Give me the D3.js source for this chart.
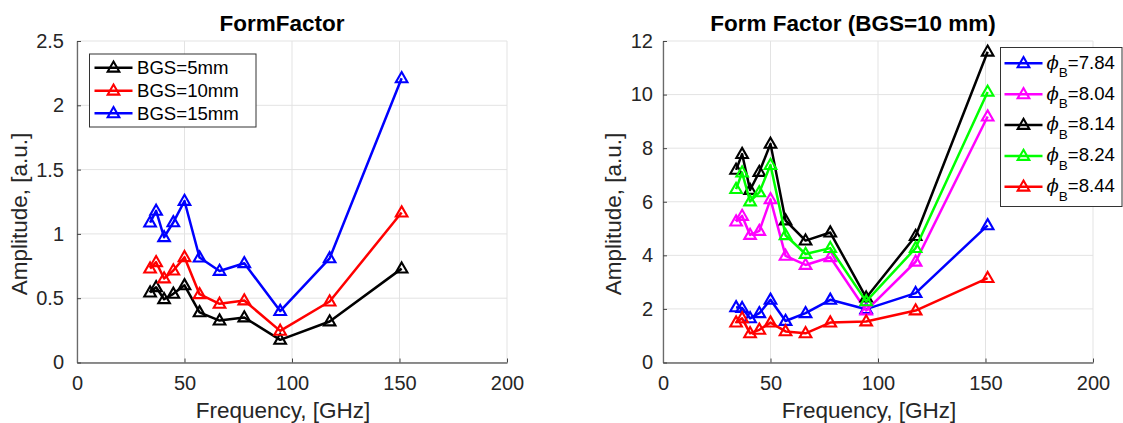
<!DOCTYPE html>
<html>
<head>
<meta charset="utf-8">
<script src="https://cdn.jsdelivr.net/npm/d3@7"></script>
<style>
  html, body { margin: 0; padding: 0; background: #fff; }
  svg { display: block; }
  text { font-family: "Liberation Sans", Arial, Helvetica, sans-serif; fill: #262626; }
</style>
</head>
<body>
<svg id="chart" width="1123" height="423"></svg>
<script>
// ---------------- DATA ----------------
const freq = [34, 36.8, 40.5, 44.8, 50, 57, 66.3, 77.8, 94.5, 117.5, 151];

// Left panel: FormFactor for different BGS
const leftNames = ["BGS=5mm", "BGS=10mm", "BGS=15mm"];
const leftColors = ["#000000", "#ff0000", "#0000ff"];
const bgs5  = [0.544, 0.585, 0.492, 0.534, 0.600, 0.390, 0.326, 0.350, 0.176, 0.319, 0.730];
const bgs10 = [0.730, 0.780, 0.653, 0.715, 0.819, 0.531, 0.456, 0.482, 0.246, 0.474, 1.166];
const bgs15 = [1.088, 1.179, 0.974, 1.090, 1.256, 0.816, 0.712, 0.772, 0.400, 0.810, 2.210];
const leftSeries = [bgs5, bgs10, bgs15];
const leftYTicks = [0, 0.5, 1, 1.5, 2, 2.5];
const leftYLabels = ["0", "0.5", "1", "1.5", "2", "2.5"];

// Right panel: Form Factor (BGS=10 mm) for different phi_B
const rightNames = ["7.84", "8.04", "8.14", "8.24", "8.44"];
const rightColors = ["#0000ff", "#ff00ff", "#000000", "#00ff00", "#ff0000"];
const phi784 = [2.06, 2.03, 1.65, 1.84, 2.34, 1.55, 1.84, 2.34, 1.99, 2.59, 5.12];
const phi804 = [5.26, 5.47, 4.76, 4.91, 6.09, 3.98, 3.64, 3.93, 1.94, 3.76, 9.18];
const phi814 = [7.19, 7.78, 6.44, 7.11, 8.16, 5.30, 4.55, 4.85, 2.42, 4.72, 11.60];
const phi824 = [6.47, 7.09, 6.01, 6.35, 7.37, 4.75, 4.05, 4.27, 2.28, 4.27, 10.10];
const phi844 = [1.49, 1.65, 1.09, 1.22, 1.49, 1.16, 1.09, 1.49, 1.53, 1.94, 3.15];
const rightSeries = [phi784, phi804, phi814, phi824, phi844];
const rightYTicks = [0, 2, 4, 6, 8, 10, 12];

const xTicks = [0, 50, 100, 150, 200];

// ---------------- DRAW ----------------
const svg = d3.select("#chart");
const FONT_TICK = 20, FONT_LABEL = 22.5, FONT_LEG = 18.6;
const yTop = 41, yBot = 362.5;
const LINE_W = 2.5, MARK_W = 2.1;

const triPath = "M0,-6.2 L5.8,3.9 L-5.8,3.9 Z";

function panel(opts) {
  const x = d3.scaleLinear().domain([0, 200]).range([opts.left, opts.left + 430]);
  const y = d3.scaleLinear().domain(opts.yDomain).range([yBot, yTop]);
  const g = svg.append("g");

  // grid
  g.append("g").selectAll("line").data(xTicks).join("line")
    .attr("x1", d => x(d)).attr("x2", d => x(d))
    .attr("y1", yTop).attr("y2", yBot)
    .attr("stroke", "#e3e3e3").attr("stroke-width", 1);
  g.append("g").selectAll("line").data(opts.yTicks).join("line")
    .attr("x1", x(0)).attr("x2", x(200))
    .attr("y1", d => y(d)).attr("y2", d => y(d))
    .attr("stroke", "#e3e3e3").attr("stroke-width", 1);

  // axes
  const xAxis = d3.axisBottom(x).tickValues(xTicks).tickSizeInner(-4).tickSizeOuter(0).tickPadding(9)
    .tickFormat(d3.format("d"));
  const gx = g.append("g").attr("transform", `translate(0,${yBot})`).call(xAxis);
  gx.select(".domain").attr("stroke", "#6a6a6a").attr("stroke-width", 1.3);
  gx.selectAll(".tick line").attr("stroke", "#444");
  gx.selectAll(".tick text").attr("font-size", FONT_TICK).attr("fill", "#262626")
    .attr("font-family", "Liberation Sans, Arial, sans-serif").attr("y", 13).attr("dy", "0.71em");

  const yAxis = d3.axisLeft(y).tickValues(opts.yTicks).tickSizeInner(-4).tickSizeOuter(0)
    .tickPadding(opts.tickPad).tickFormat(opts.yFormat);
  const gy = g.append("g").attr("transform", `translate(${x(0)},0)`).call(yAxis);
  gy.select(".domain").attr("stroke", "#6a6a6a").attr("stroke-width", 1.3);
  gy.selectAll(".tick line").attr("stroke", "#444");
  gy.selectAll(".tick text").attr("font-size", FONT_TICK).attr("fill", "#262626")
    .attr("font-family", "Liberation Sans, Arial, sans-serif").attr("x", -opts.tickPad);

  // lines + markers
  const line = d3.line().x((d, i) => x(freq[i])).y(d => y(d));
  opts.series.forEach((s, k) => {
    g.append("path").datum(s).attr("d", line).attr("fill", "none")
      .attr("stroke", opts.colors[k]).attr("stroke-width", LINE_W).attr("stroke-linejoin", "round");
    g.append("g").selectAll("path").data(s).join("path")
      .attr("transform", (d, i) => `translate(${x(freq[i])},${y(d)})`)
      .attr("d", triPath).attr("fill", "none")
      .attr("stroke", opts.colors[k]).attr("stroke-width", MARK_W).attr("stroke-linejoin", "miter");
  });

  // title
  g.append("text").attr("x", opts.titleX).attr("y", 31).attr("text-anchor", "middle")
    .attr("font-size", FONT_LABEL).attr("font-weight", "bold").style("fill", "#000")
    .text(opts.title);
  // x label
  g.append("text").attr("x", opts.xlabX).attr("y", 418).attr("text-anchor", "middle")
    .attr("font-size", FONT_LABEL).text("Frequency, [GHz]");
  // y label
  g.append("text").attr("transform", `translate(${opts.ylabX},214) rotate(-90)`)
    .attr("text-anchor", "middle").attr("font-size", FONT_LABEL).text("Amplitude, [a.u.]");

  return { g, x, y };
}

panel({
  left: 77, yDomain: [0, 2.5], yTicks: leftYTicks,
  yFormat: d => leftYLabels[leftYTicks.indexOf(d)], tickPad: 13,
  series: leftSeries, colors: leftColors,
  title: "FormFactor", titleX: 282, xlabX: 283, ylabX: 27
});
panel({
  left: 663, yDomain: [0, 12], yTicks: rightYTicks,
  yFormat: d3.format("d"), tickPad: 10,
  series: rightSeries, colors: rightColors,
  title: "Form Factor (BGS=10 mm)", titleX: 853, xlabX: 869, ylabX: 621
});

// ---------------- LEGENDS ----------------
function legendMarker(g, cx, cy, color) {
  g.append("line").attr("x1", cx - 19).attr("x2", cx + 19).attr("y1", cy).attr("y2", cy)
    .attr("stroke", color).attr("stroke-width", LINE_W);
  g.append("path").attr("transform", `translate(${cx},${cy})`).attr("d", triPath)
    .attr("fill", "none").attr("stroke", color).attr("stroke-width", MARK_W);
}

// Left legend
const lg = svg.append("g");
lg.append("rect").attr("x", 89.5).attr("y", 54).attr("width", 166.5).attr("height", 73)
  .attr("fill", "#fff").attr("stroke", "#333").attr("stroke-width", 1);
const leftRowY = [67.7, 90.7, 113.3];
leftNames.forEach((n, k) => {
  legendMarker(lg, 113.5, leftRowY[k], leftColors[k]);
  lg.append("text").attr("x", 137).attr("y", leftRowY[k] + 6.6).attr("font-size", FONT_LEG)
    .style("fill", "#000").text(n);
});

// Right legend
const rg = svg.append("g");
rg.append("rect").attr("x", 1000.5).attr("y", 47.5).attr("width", 121.5).attr("height", 159)
  .attr("fill", "#fff").attr("stroke", "#333").attr("stroke-width", 1);
const rightRowY = [63.3, 94.3, 125, 156, 186.7];
rightNames.forEach((n, k) => {
  legendMarker(rg, 1023.5, rightRowY[k], rightColors[k]);
  const t = rg.append("text").attr("x", 1046.5).attr("y", rightRowY[k] + 5.4)
    .attr("font-size", FONT_LEG).style("fill", "#000");
  t.append("tspan").attr("font-family", "DejaVu Serif, Liberation Serif, serif")
    .attr("font-style", "italic").attr("font-size", 18).text("\u03D5");
  t.append("tspan").attr("font-size", 13.5).attr("dy", 8.5).text("B");
  t.append("tspan").attr("dy", -8.5).text("=" + n);
});
</script>
</body>
</html>
